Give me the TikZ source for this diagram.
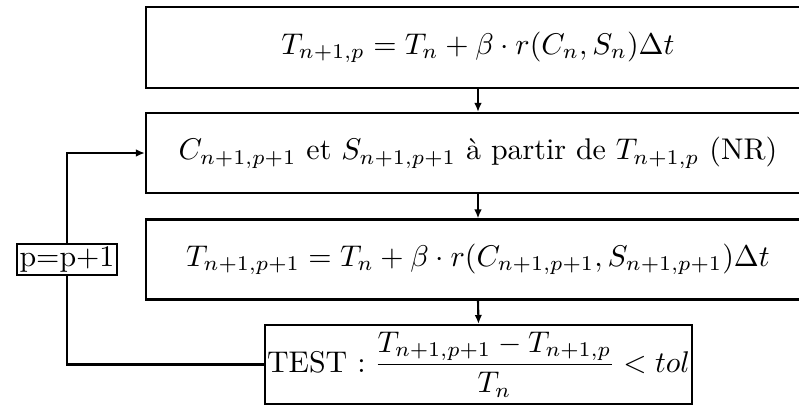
\documentclass[tikz,border=0pt]{standalone}
\usepackage{amsmath}
\usetikzlibrary{arrows.meta}
\begin{document}
\def\u{0.334pt}
\begin{tikzpicture}[x=\u,y=-\u,
  box/.style={draw,line width=0.7pt,minimum width=664*\u,minimum height=80*\u,inner sep=0pt},
  tbox/.style={draw,line width=0.7pt,minimum width=427*\u,minimum height=79*\u,inner sep=0pt},
  pbox/.style={draw,line width=0.7pt,inner sep=1pt},
  conn/.style={line width=0.7pt},
  arr/.style={conn,-{Latex[length=3pt,width=2.5pt]}}]
\useasboundingbox (0,0) rectangle (799,406);
\node[box,minimum height=81*\u] (b1) at (478,47.5) {$T_{n+1,p}=T_n+\beta\cdot r(C_n,S_n)\Delta t$};
\node[box] (b2) at (478,153) {$C_{n+1,p+1}$ et $S_{n+1,p+1}$ à partir de $T_{n+1,p}$ (NR)};
\node[box] (b3) at (478,259.5) {$T_{n+1,p+1}=T_n+\beta\cdot r(C_{n+1,p+1},S_{n+1,p+1})\Delta t$};
\node[tbox] (b4) at (478.5,364.5) {\makebox[0pt]{TEST $:\dfrac{T_{n+1,p+1}-T_{n+1,p}}{T_n}<tol$}};
\node[pbox] (pp) at (67,259.5) {p=p+1};
\draw[arr] (b1.south) -- (b2.north);
\draw[arr] (b2.south) -- (b3.north);
\draw[arr] (b3.south) -- (b4.north);
\draw[conn] (b4.west) -| (pp.south);
\draw[arr] (pp.north) |- (b2.west);
\end{tikzpicture}
\end{document}
